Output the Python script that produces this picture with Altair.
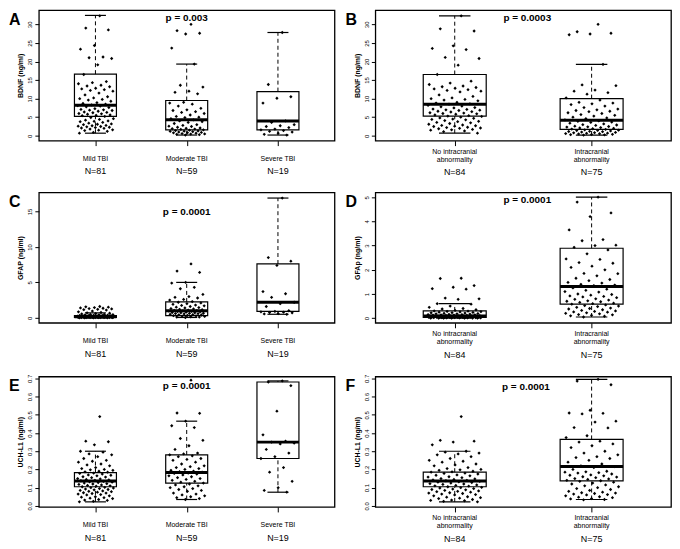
import altair as alt
import pandas as pd

FONT = "Liberation Sans"
W, H = 297, 131

sev_cats = ["Mild TBI", "Moderate TBI", "Severe TBI"]
sev_ns = ["N=81", "N=59", "N=19"]
ic_cats = ["No intracranial\nabnormality", "Intracranial\nabnormality"]
ic_ns = ["N=84", "N=75"]

# ---------------- A: BDNF by severity ----------------
a_lo = [0.7, 0.2, 0.2]
a_q1 = [5.2, 1.6, 1.6]
a_med = [8.2, 4.3, 4.0]
a_q3 = [16.6, 9.5, 11.9]
a_hi = [32.4, 19.3, 27.8]
a_mild = [32.3, 29.0, 28.5, 24.3, 23.3, 21.2, 21.0, 20.8, 19.1, 16.5, 14.6, 14.3, 14.0, 13.6, 13.4,
          13.2, 12.8, 12.6, 12.4, 12.2, 12.0, 11.5, 11.0, 10.5, 10.2, 10.0, 9.8, 9.6, 9.3, 8.9, 8.7,
          8.5, 8.3, 8.1, 8.0, 7.8, 7.6, 7.3, 7.1, 7.0, 6.9, 6.8, 6.6, 6.4, 6.3, 6.2, 6.0, 5.9, 5.8,
          5.6, 5.5, 5.4, 5.2, 4.9, 4.6, 4.4, 4.2, 4.0, 3.9, 3.8, 3.6, 3.4, 3.2, 3.1, 3.0, 2.8, 2.7,
          2.6, 2.5, 2.4, 2.3, 2.2, 2.1, 2.0, 1.8, 1.6, 1.5, 1.4, 1.2, 0.9, 0.7]
a_mod = [30.0, 28.3, 27.6, 27.4, 23.6, 19.3, 13.6, 13.1, 12.0, 11.7, 11.3, 9.0, 8.8, 8.5, 8.0, 7.4,
         7.0, 6.8, 6.5, 6.3, 6.0, 5.6, 5.2, 5.0, 4.9, 4.6, 4.3, 4.0, 3.8, 3.6, 3.3, 3.0, 2.8, 2.6,
         2.5, 2.3, 2.1, 2.0, 1.9, 1.8, 1.7, 1.6, 1.5, 1.4, 1.3, 1.25, 1.2, 1.1, 1.0, 0.9, 0.85, 0.8,
         0.7, 0.6, 0.5, 0.45, 0.4, 0.3, 0.2]
a_sev = [27.8, 13.8, 10.5, 10.1, 8.8, 4.0, 3.6, 3.0, 2.7, 2.5, 2.2, 1.8, 1.6, 1.4, 1.2, 1.0, 0.7, 0.4, 0.2]

# ---------------- B: BDNF by CT ----------------
b_lo = [0.7, 0.2]
b_q1 = [5.3, 1.7]
b_med = [8.5, 4.2]
b_q3 = [16.5, 10.0]
b_hi = [32.3, 19.2]
b_no = [32.3, 28.8, 28.2, 24.2, 23.5, 23.2, 21.1, 20.8, 19.0, 16.5, 14.7, 14.2, 13.8, 13.4, 13.2,
        13.0, 12.8, 12.6, 12.4, 12.2, 12.0, 11.8, 11.0, 10.6, 10.2, 10.0, 9.8, 9.6, 9.4, 9.0, 8.8,
        8.6, 8.5, 8.2, 8.0, 7.8, 7.6, 7.5, 7.2, 7.1, 7.0, 6.9, 6.8, 6.6, 6.5, 6.4, 6.2, 6.1, 6.0,
        5.9, 5.8, 5.6, 5.4, 5.3, 5.2, 5.0, 4.8, 4.7, 4.5, 4.4, 4.3, 4.1, 3.9, 3.8, 3.6, 3.5, 3.3,
        3.1, 2.9, 2.8, 2.7, 2.6, 2.5, 2.3, 2.2, 2.1, 2.0, 1.9, 1.7, 1.6, 1.5, 1.3, 1.1, 0.7]
b_ic = [30.0, 28.0, 27.6, 27.4, 27.2, 19.2, 13.7, 13.5, 12.3, 12.0, 11.6, 11.2, 10.2, 9.6, 9.0,
        8.8, 8.6, 8.4, 8.0, 7.6, 7.2, 7.0, 6.8, 6.6, 6.5, 6.2, 6.0, 5.7, 5.5, 5.3, 5.0, 4.8, 4.6,
        4.3, 4.0, 3.9, 3.7, 3.6, 3.4, 3.2, 3.0, 2.9, 2.8, 2.6, 2.5, 2.4, 2.35, 2.2, 2.1, 2.0, 1.9,
        1.8, 1.7, 1.6, 1.5, 1.45, 1.4, 1.3, 1.2, 1.15, 1.1, 1.0, 0.9, 0.85, 0.8, 0.7, 0.65, 0.6,
        0.55, 0.5, 0.4, 0.35, 0.3, 0.25, 0.2]

# ---------------- C: GFAP by severity ----------------
c_lo = [0.0, 0.05, 0.5]
c_q1 = [0.05, 0.3, 0.9]
c_med = [0.15, 1.0, 2.2]
c_q3 = [0.32, 2.25, 7.6]
c_hi = [0.7, 5.0, 16.9]
c_mild = [1.6, 1.55, 1.5, 1.45, 1.4, 1.35, 1.3, 1.25, 1.2, 1.15, 1.1, 0.95, 0.85, 0.75, 0.7, 0.65,
          0.6, 0.55, 0.5, 0.48, 0.45, 0.42, 0.4, 0.38, 0.36, 0.34, 0.33, 0.32, 0.3, 0.29, 0.28,
          0.27, 0.26, 0.25, 0.24, 0.23, 0.22, 0.22, 0.21, 0.2, 0.19, 0.18, 0.18, 0.17, 0.16, 0.16,
          0.15, 0.15, 0.14, 0.14, 0.13, 0.13, 0.12, 0.12, 0.12, 0.11, 0.11, 0.1, 0.1, 0.09, 0.09,
          0.08, 0.08, 0.08, 0.07, 0.07, 0.06, 0.06, 0.05, 0.05, 0.05, 0.04, 0.04, 0.03, 0.03, 0.02,
          0.02, 0.01, 0.01, 0.0, 0.0]
c_mod = [7.6, 6.6, 6.4, 5.0, 4.9, 4.3, 4.1, 3.3, 3.0, 2.9, 2.8, 2.6, 2.5, 2.3, 2.2, 2.1, 2.0, 1.9,
         1.8, 1.75, 1.7, 1.6, 1.5, 1.45, 1.4, 1.3, 1.25, 1.2, 1.15, 1.1, 1.05, 1.0, 0.98, 0.95, 0.9,
         0.88, 0.85, 0.8, 0.75, 0.72, 0.7, 0.65, 0.62, 0.6, 0.58, 0.55, 0.5, 0.45, 0.42, 0.4, 0.35,
         0.3, 0.28, 0.25, 0.2, 0.15, 0.12, 0.1, 0.05]
c_sev = [16.9, 8.5, 8.0, 7.4, 3.7, 3.4, 2.9, 2.2, 2.0, 1.6, 1.0, 0.9, 0.85, 0.8, 0.75, 0.7, 0.6, 0.55, 0.5]

# ---------------- D: GFAp by CT ----------------
d_lo = [0.0, 0.05]
d_q1 = [0.03, 0.58]
d_med = [0.09, 1.31]
d_q3 = [0.3, 2.89]
d_hi = [0.6, 5.0]
d_no = [1.65, 1.64, 1.35, 1.28, 1.22, 1.2, 0.83, 0.8, 0.78, 0.6, 0.58, 0.5, 0.45, 0.4, 0.38, 0.35,
        0.32, 0.3, 0.29, 0.28, 0.27, 0.26, 0.25, 0.24, 0.23, 0.22, 0.21, 0.2, 0.19, 0.18, 0.18,
        0.17, 0.16, 0.15, 0.15, 0.14, 0.14, 0.13, 0.13, 0.12, 0.12, 0.11, 0.11, 0.1, 0.1, 0.1,
        0.09, 0.09, 0.09, 0.08, 0.08, 0.08, 0.07, 0.07, 0.07, 0.06, 0.06, 0.06, 0.05, 0.05, 0.05,
        0.04, 0.04, 0.04, 0.04, 0.03, 0.03, 0.03, 0.03, 0.02, 0.02, 0.02, 0.02, 0.01, 0.01, 0.01,
        0.01, 0.0, 0.0, 0.0, 0.0, 0.0, 0.0, 0.0]
d_ic = [5.0, 4.8, 4.35, 4.2, 3.65, 3.25, 3.2, 3.02, 3.0, 2.93, 2.82, 2.66, 2.45, 2.43, 2.3, 2.27,
        2.15, 2.1, 2.0, 1.85, 1.84, 1.75, 1.65, 1.6, 1.55, 1.48, 1.45, 1.4, 1.37, 1.35, 1.25, 1.2,
        1.15, 1.1, 1.08, 1.0, 0.98, 0.95, 0.92, 0.9, 0.88, 0.85, 0.8, 0.78, 0.75, 0.72, 0.7, 0.68,
        0.65, 0.62, 0.6, 0.58, 0.55, 0.52, 0.5, 0.48, 0.45, 0.42, 0.4, 0.38, 0.35, 0.32, 0.3,
        0.28, 0.26, 0.25, 0.22, 0.2, 0.18, 0.15, 0.14, 0.12, 0.1, 0.08, 0.05]

# ---------------- E: UCH-L1 by severity ----------------
e_lo = [0.022, 0.035, 0.075]
e_q1 = [0.105, 0.125, 0.26]
e_med = [0.137, 0.183, 0.35]
e_q3 = [0.183, 0.28, 0.68]
e_hi = [0.30, 0.465, 0.686]
e_mild = [0.49, 0.355, 0.352, 0.335, 0.30, 0.295, 0.285, 0.28, 0.27, 0.26, 0.25, 0.245, 0.24, 0.23,
          0.225, 0.22, 0.21, 0.205, 0.2, 0.198, 0.195, 0.19, 0.187, 0.185, 0.18, 0.178, 0.175,
          0.17, 0.168, 0.165, 0.16, 0.158, 0.155, 0.15, 0.148, 0.145, 0.142, 0.14, 0.138, 0.135,
          0.132, 0.13, 0.128, 0.125, 0.122, 0.12, 0.118, 0.115, 0.112, 0.11, 0.108, 0.105, 0.102,
          0.1, 0.098, 0.095, 0.092, 0.09, 0.088, 0.085, 0.082, 0.08, 0.078, 0.075, 0.072, 0.07,
          0.068, 0.065, 0.062, 0.06, 0.055, 0.05, 0.048, 0.045, 0.042, 0.04, 0.035, 0.032, 0.03,
          0.025, 0.022]
e_mod = [0.69, 0.51, 0.508, 0.465, 0.44, 0.43, 0.37, 0.36, 0.33, 0.31, 0.29, 0.285, 0.28, 0.275,
         0.27, 0.26, 0.255, 0.25, 0.24, 0.23, 0.22, 0.215, 0.21, 0.205, 0.2, 0.195, 0.19, 0.188,
         0.185, 0.18, 0.178, 0.175, 0.17, 0.165, 0.16, 0.155, 0.15, 0.145, 0.14, 0.135, 0.13,
         0.125, 0.12, 0.115, 0.11, 0.105, 0.1, 0.095, 0.09, 0.085, 0.08, 0.07, 0.065, 0.06, 0.055,
         0.05, 0.045, 0.04, 0.035]
e_sev = [0.686, 0.68, 0.66, 0.52, 0.39, 0.355, 0.35, 0.345, 0.34, 0.31, 0.29, 0.27, 0.26, 0.21,
         0.185, 0.135, 0.10, 0.085, 0.075]

# ---------------- F: UCH-L1 by CT ----------------
f_lo = [0.022, 0.035]
f_q1 = [0.105, 0.137]
f_med = [0.137, 0.216]
f_q3 = [0.185, 0.365]
f_hi = [0.30, 0.695]
f_no = [0.49, 0.36, 0.355, 0.35, 0.335, 0.30, 0.295, 0.29, 0.285, 0.28, 0.27, 0.26, 0.25, 0.245,
        0.24, 0.23, 0.225, 0.22, 0.21, 0.205, 0.2, 0.198, 0.195, 0.19, 0.187, 0.185, 0.18, 0.178,
        0.175, 0.17, 0.168, 0.165, 0.16, 0.158, 0.155, 0.15, 0.148, 0.145, 0.142, 0.14, 0.138,
        0.135, 0.132, 0.13, 0.128, 0.125, 0.122, 0.12, 0.118, 0.115, 0.112, 0.11, 0.108, 0.105,
        0.102, 0.1, 0.098, 0.095, 0.092, 0.09, 0.088, 0.085, 0.082, 0.08, 0.078, 0.075, 0.072,
        0.07, 0.068, 0.065, 0.062, 0.06, 0.055, 0.05, 0.048, 0.045, 0.042, 0.04, 0.035, 0.032,
        0.03, 0.028, 0.025, 0.022]
f_ic = [0.695, 0.685, 0.665, 0.525, 0.51, 0.508, 0.505, 0.465, 0.46, 0.43, 0.428, 0.385, 0.375,
        0.355, 0.35, 0.34, 0.33, 0.32, 0.3, 0.29, 0.28, 0.27, 0.265, 0.26, 0.25, 0.24, 0.23, 0.22,
        0.215, 0.21, 0.2, 0.19, 0.187, 0.185, 0.182, 0.18, 0.175, 0.17, 0.168, 0.165, 0.16, 0.158,
        0.155, 0.15, 0.148, 0.145, 0.14, 0.138, 0.135, 0.13, 0.125, 0.12, 0.115, 0.11, 0.105, 0.1,
        0.095, 0.09, 0.085, 0.08, 0.075, 0.072, 0.07, 0.068, 0.065, 0.062, 0.06, 0.055, 0.05,
        0.048, 0.045, 0.04, 0.038, 0.035, 0.033]


def panel(letter, ytitle, cats, ns, lo, q1, med, q3, hi, groups, ydom, yticks, yfmt,
          ptext, px, py):
    k = len(cats)
    pad = 0.04 * k
    xs = alt.Scale(domain=[0.5 - pad, k + 0.5 + pad], nice=False, zero=False)
    ys = alt.Scale(domain=ydom, nice=False, zero=False)
    xaxis = alt.Axis(values=list(range(1, k + 1)), labels=False, title=None, grid=False,
                     domain=False, ticks=True, tickSize=5, tickColor="black", tickWidth=1)
    yaxis = alt.Axis(values=yticks, format=yfmt, title=ytitle, grid=False, domain=False,
                     tickSize=4, tickColor="black", labelAngle=-90, labelFontSize=6,
                     labelColor="black", labelPadding=2, titleFontSize=7,
                     titleFontWeight="bold", titleColor="black", titlePadding=3)

    def X(f):
        return alt.X(f, type="quantitative", scale=xs, axis=xaxis)

    def Y(f):
        return alt.Y(f, type="quantitative", scale=ys, axis=yaxis)

    box_df = pd.DataFrame({"g": list(range(1, k + 1)), "lo": lo, "q1": q1, "med": med,
                           "q3": q3, "hi": hi})
    base = alt.Chart(box_df).transform_calculate(
        xl="datum.g - 0.23", xr="datum.g + 0.23", cl="datum.g - 0.115", cr="datum.g + 0.115")

    box = base.mark_rect(fill="white", stroke="black", strokeWidth=1.2).encode(
        x=X("xl"), x2="xr:Q", y=Y("q1"), y2="q3:Q")
    wh_up = base.mark_rule(color="black", strokeWidth=1, strokeDash=[4, 3]).encode(
        x=X("g"), y=Y("q3"), y2="hi:Q")
    wh_dn = base.mark_rule(color="black", strokeWidth=1, strokeDash=[4, 3]).encode(
        x=X("g"), y=Y("lo"), y2="q1:Q")
    cap_up = base.mark_rule(color="black", strokeWidth=1.2).encode(
        x=X("cl"), x2="cr:Q", y=Y("hi"))
    cap_dn = base.mark_rule(color="black", strokeWidth=1.2).encode(
        x=X("cl"), x2="cr:Q", y=Y("lo"))
    median = base.mark_rule(color="black", strokeWidth=3).encode(
        x=X("xl"), x2="xr:Q", y=Y("med"))

    pg, pv = [], []
    for i, vals in enumerate(groups):
        pg += [i + 1] * len(vals)
        pv += vals
    pts_df = pd.DataFrame({"g": pg, "v": pv})
    pts = alt.Chart(pts_df).transform_window(
        idx="row_number()", groupby=["g"]
    ).transform_calculate(
        xj="datum.g + ((datum.idx * 0.6180339887) % 1 - 0.5) * 0.4"
    ).mark_point(shape="diamond", filled=True, size=11, color="black", opacity=1).encode(
        x=X("xj"), y=Y("v"))

    lab_df = pd.DataFrame({"g": list(range(1, k + 1)), "cat": cats, "n": ns})
    two_line = any("\n" in c for c in cats)
    cat_txt = alt.Chart(lab_df).mark_text(
        fontSize=7, font=FONT, lineBreak="\n", lineHeight=8, baseline="top", color="black"
    ).encode(x=X("g"), y=alt.value(H + (7 if two_line else 14)), text="cat:N")
    n_txt = alt.Chart(lab_df).mark_text(
        fontSize=9, font=FONT, baseline="middle", color="black"
    ).encode(x=X("g"), y=alt.value(H + (32 if two_line else 31)), text="n:N")

    p_df = pd.DataFrame({"x": [px], "t": [ptext]})
    p_txt = alt.Chart(p_df).mark_text(
        fontSize=10, font=FONT, fontWeight="bold", baseline="middle", color="black"
    ).encode(x=X("x"), y=alt.value(py), text="t:N")

    l_df = pd.DataFrame({"t": [letter]})
    l_txt = alt.Chart(l_df).mark_text(
        fontSize=16, font=FONT, fontWeight="bold", baseline="alphabetic", align="left",
        color="black"
    ).encode(x=alt.value(-30), y=alt.value(15), text="t:N")

    return alt.layer(box, wh_up, wh_dn, cap_up, cap_dn, median, pts, cat_txt, n_txt,
                     p_txt, l_txt).properties(width=W, height=H)


pA = panel("A", "BDNF (ng/ml)", sev_cats, sev_ns, a_lo, a_q1, a_med, a_q3, a_hi,
           [a_mild, a_mod, a_sev], [-1.3, 33.8], [0, 5, 10, 15, 20, 25, 30], "d",
           "p = 0.003", 2, 8)
pB = panel("B", "BDNF (ng/ml)", ic_cats, ic_ns, b_lo, b_q1, b_med, b_q3, b_hi,
           [b_no, b_ic], [-1.3, 33.8], [0, 5, 10, 15, 20, 25, 30], "d",
           "p = 0.0003", 1.53, 8)
pC = panel("C", "GFAP (ng/ml)", sev_cats, sev_ns, c_lo, c_q1, c_med, c_q3, c_hi,
           [c_mild, c_mod, c_sev], [-0.7, 17.7], [0, 5, 10, 15], "d",
           "p = 0.0001", 2, 20)
pD = panel("D", "GFAp (ng/ml)", ic_cats, ic_ns, d_lo, d_q1, d_med, d_q3, d_hi,
           [d_no, d_ic], [-0.19, 5.2], [0, 1, 2, 3, 4, 5], "d",
           "p = 0.0001", 1.53, 8)
pE = panel("E", "UCH-L1 (ng/ml)", sev_cats, sev_ns, e_lo, e_q1, e_med, e_q3, e_hi,
           [e_mild, e_mod, e_sev], [-0.006, 0.71], [0, 0.1, 0.2, 0.3, 0.4, 0.5, 0.6, 0.7], ".1f",
           "p = 0.0001", 2, 10)
pF = panel("F", "UCH-L1 (ng/ml)", ic_cats, ic_ns, f_lo, f_q1, f_med, f_q3, f_hi,
           [f_no, f_ic], [-0.006, 0.71], [0, 0.1, 0.2, 0.3, 0.4, 0.5, 0.6, 0.7], ".1f",
           "p = 0.0001", 1.52, 11)

chart = alt.vconcat(
    alt.hconcat(pA, pB, spacing=9),
    alt.hconcat(pC, pD, spacing=9),
    alt.hconcat(pE, pF, spacing=9),
    spacing=13,
).properties(padding=0).configure_view(
    stroke="black", strokeWidth=1.3
).configure_axis(labelFont=FONT, titleFont=FONT).configure_text(font=FONT)

chart.save("out.html", embed_options={"renderer": "svg", "actions": False})
